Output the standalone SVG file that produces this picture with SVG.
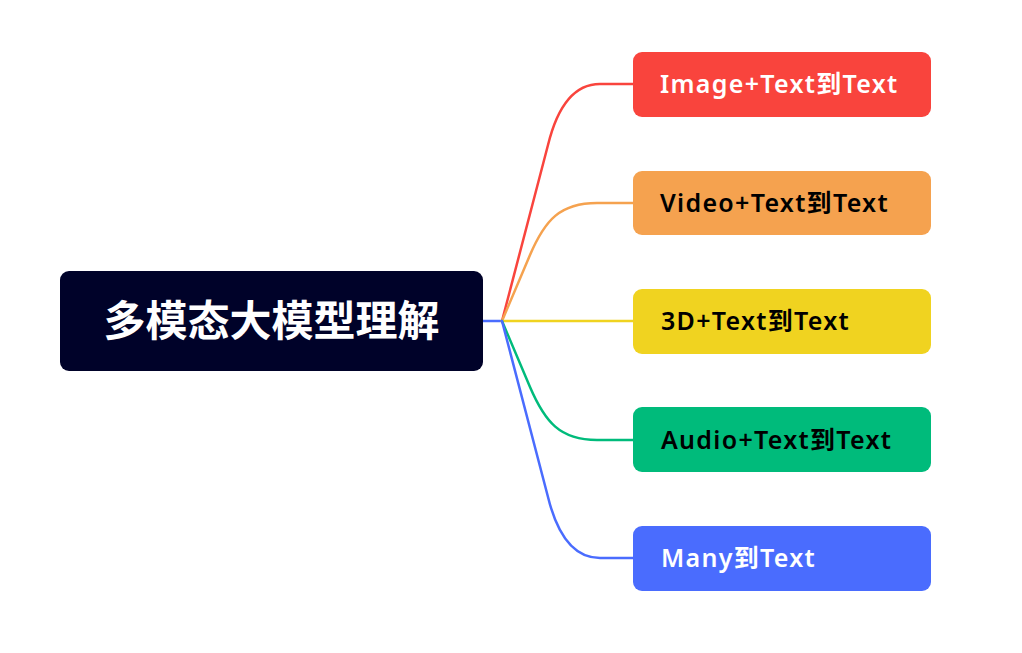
<svg xmlns="http://www.w3.org/2000/svg" width="1022" height="653" viewBox="0 0 1022 653">
<style>
.lbl{font-family:"Noto Sans","Noto Sans CJK SC",sans-serif;font-size:25px;font-weight:600;letter-spacing:1.3px}
.root{font-family:"Noto Sans CJK SC","Noto Sans",sans-serif;font-size:42px;font-weight:700;fill:#fff}
.c{fill:none;stroke-width:2.5;stroke-linecap:round}
</style>
<rect width="1022" height="653" fill="#fff"/>
<g id="connectors">
<path class="c" stroke="#4A6CFE" d="M483,321 H502"/>
<path class="c" stroke="#F9443D" d="M502,321 L548,145 Q563,84 600,84 H633"/>
<path class="c" stroke="#F5A24F" d="M502,321 L530,255 C545,220 560,203 597,203 H633"/>
<path class="c" stroke="#F0D320" d="M502,321 H633"/>
<path class="c" stroke="#00BB7B" d="M502,321 L530,387 C545,422 560,440 597,440 H633"/>
<path class="c" stroke="#4A6CFE" d="M502,321 L548,497 Q563,558 600,558 H633"/>
</g>
<g id="root">
<rect x="60" y="271" width="423" height="100" rx="9" fill="#000229"/>
<text class="root" x="271.5" y="336" text-anchor="middle">多模态大模型理解</text>
</g>
<g id="n1">
<rect x="633" y="52" width="298" height="65" rx="9" fill="#F9443D"/>
<text class="lbl" x="660" y="93" fill="#fff">Image+Text到Text</text>
</g>
<g id="n2">
<rect x="633" y="171" width="298" height="64" rx="9" fill="#F5A24F"/>
<text class="lbl" x="660" y="211.5" fill="#000">Video+Text到Text</text>
</g>
<g id="n3">
<rect x="633" y="289" width="298" height="65" rx="9" fill="#F0D320"/>
<text class="lbl" x="661" y="330" fill="#000">3D+Text到Text</text>
</g>
<g id="n4">
<rect x="633" y="407" width="298" height="65" rx="9" fill="#00BB7B"/>
<text class="lbl" x="661" y="448.5" fill="#000">Audio+Text到Text</text>
</g>
<g id="n5">
<rect x="633" y="526" width="298" height="65" rx="9" fill="#4A6CFE"/>
<text class="lbl" x="661" y="567" fill="#fff">Many到Text</text>
</g>
</svg>
